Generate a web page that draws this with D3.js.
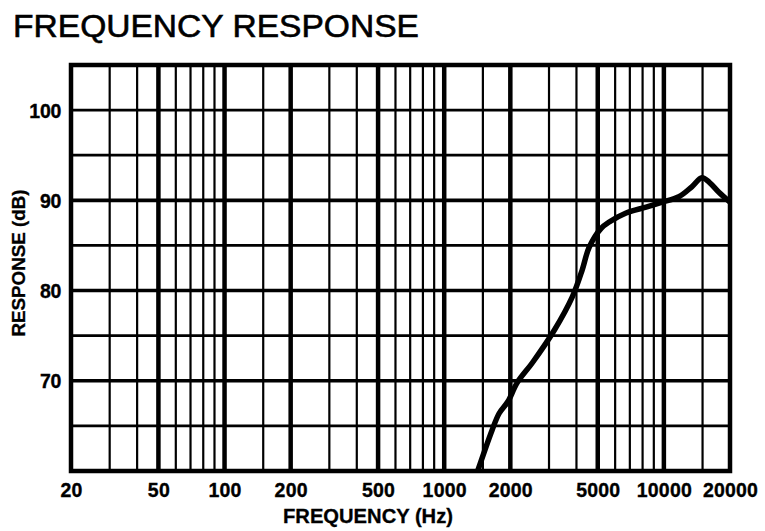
<!DOCTYPE html>
<html><head><meta charset="utf-8">
<script src="https://cdn.jsdelivr.net/npm/d3@7"></script>
<style>
html,body{margin:0;padding:0;background:#fff;}
svg{display:block;}
</style>
</head><body>
<svg id="chart" width="765" height="531"></svg>
<script>
// ---- data ----
const freqHz = [1420, 1650, 1780, 1950, 2150, 2520, 3170, 3830, 4250, 4570, 5180, 5640, 6730, 8300, 9820, 11700, 13400, 14900, 16100, 17800, 20000];
const responseDb = [60, 64.5, 66.4, 67.7, 69.8, 72.0, 75.6, 79.3, 82.3, 84.8, 86.9, 87.6, 88.6, 89.25, 89.8, 90.4, 91.5, 92.5, 92.0, 90.9, 89.8];
const xTickLabels = [20, 50, 100, 200, 500, 1000, 2000, 5000, 10000, 20000];
const yTickLabels = [70, 80, 90, 100];
const gridFreqs = [30,40,50,60,70,80,90,100,150,200,300,400,500,600,700,800,900,1000,1500,2000,3000,4000,5000,6000,7000,8000,9000,10000,15000];
const majorFreqs = [50,100,200,500,1000,2000,5000,10000];
const gridDb = [65,70,75,80,85,90,95,100];
const majorDb = [70,80,90];

const svg = d3.select("#chart");
const x = d3.scaleLog().domain([20, 20000]).range([71, 730]);
const y = d3.scaleLinear().domain([60, 105]).range([471, 65]);
const FONT = "Liberation Sans, Arial, sans-serif";

// title
svg.append("text").attr("x", 13).attr("y", 37)
  .attr("font-family", FONT)
  .attr("font-size", 32).attr("fill", "#000")
  .attr("stroke", "#000").attr("stroke-width", 0.6)
  .attr("textLength", 406).attr("lengthAdjust", "spacingAndGlyphs")
  .text("FREQUENCY RESPONSE");

// grid
const g = svg.append("g");
g.selectAll("line.v").data(gridFreqs).join("line")
  .attr("x1", d => x(d)).attr("x2", d => x(d))
  .attr("y1", y(105)).attr("y2", y(60))
  .attr("stroke", "#000")
  .attr("stroke-width", d => majorFreqs.includes(d) ? 4.5 : 2.2);
g.selectAll("line.h").data(gridDb).join("line")
  .attr("y1", d => y(d)).attr("y2", d => y(d))
  .attr("x1", x(20)).attr("x2", x(20000))
  .attr("stroke", "#000")
  .attr("stroke-width", d => majorDb.includes(d) ? 3.6 : 2.8);
// border
g.append("rect").attr("x", x(20)).attr("y", y(105))
  .attr("width", x(20000) - x(20)).attr("height", y(60) - y(105))
  .attr("fill", "none").attr("stroke", "#000").attr("stroke-width", 4.5);

// curve
const pts = freqHz.map((f, i) => [f, responseDb[i]]);
const line = d3.line().x(d => x(d[0])).y(d => y(d[1])).curve(d3.curveCatmullRom.alpha(0.5));
svg.append("path").attr("d", line(pts))
  .attr("fill", "none").attr("stroke", "#000").attr("stroke-width", 5.5)
  .attr("stroke-linejoin", "round").attr("stroke-linecap", "butt");

// axes
const fmt = d => String(d);
const styleLabels = sel => sel
  .attr("font-family", FONT).attr("font-weight", "bold")
  .attr("font-size", 19.5).attr("letter-spacing", 0.2).attr("fill", "#000")
  .attr("stroke", "#000").attr("stroke-width", 0.35);

const xAxis = d3.axisBottom(x).tickValues(xTickLabels).tickFormat(fmt).tickSize(0).tickPadding(0);
const xg = svg.append("g").attr("transform", "translate(0,497)").call(xAxis);
xg.select(".domain").remove();
xg.selectAll("text").attr("dy", 0).call(styleLabels);

const yAxis = d3.axisLeft(y).tickValues(yTickLabels).tickFormat(fmt).tickSize(0).tickPadding(0);
const yg = svg.append("g").attr("transform", "translate(61,0)").call(yAxis);
yg.select(".domain").remove();
yg.selectAll("text").attr("dy", "0.36em").call(styleLabels).attr("letter-spacing", -0.3);

// axis titles
svg.append("text").attr("x", 368).attr("y", 523).attr("text-anchor", "middle")
  .attr("font-family", FONT).attr("font-weight", "bold")
  .attr("font-size", 20).attr("fill", "#000")
  .attr("stroke", "#000").attr("stroke-width", 0.3)
  .attr("textLength", 170).attr("lengthAdjust", "spacingAndGlyphs")
  .text("FREQUENCY (Hz)");
svg.append("text").attr("transform", "translate(25,263) rotate(-90)").attr("text-anchor", "middle")
  .attr("font-family", FONT).attr("font-weight", "bold")
  .attr("font-size", 18).attr("fill", "#000")
  .attr("stroke", "#000").attr("stroke-width", 0.3)
  .attr("textLength", 147).attr("lengthAdjust", "spacingAndGlyphs")
  .text("RESPONSE (dB)");
</script>
</body></html>
